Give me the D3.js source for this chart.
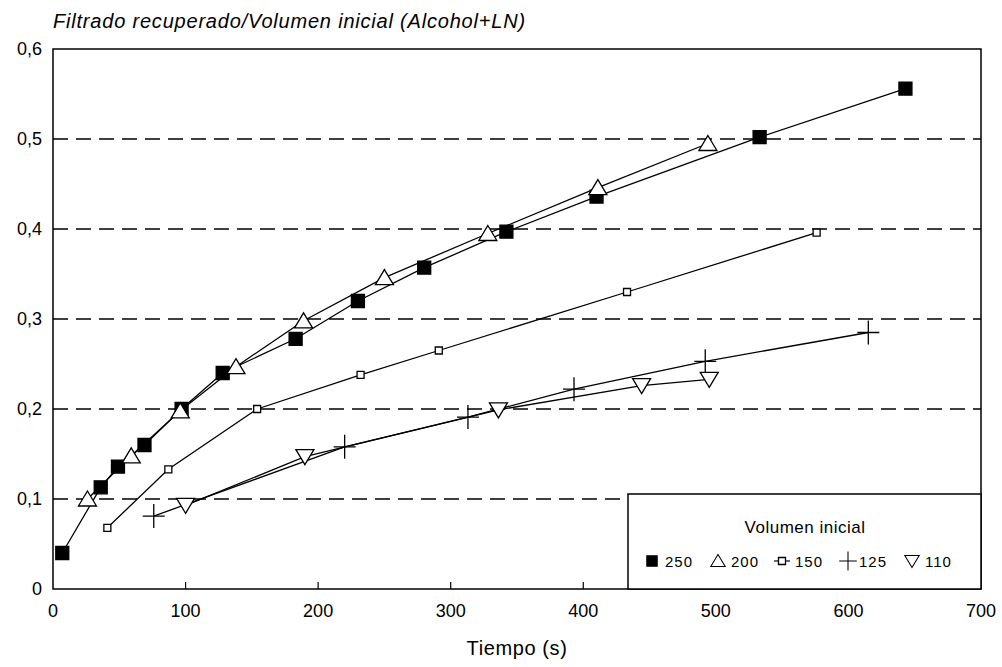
<!DOCTYPE html>
<html>
<head>
<meta charset="utf-8">
<script src="https://cdn.jsdelivr.net/npm/d3@7"></script>
<style>
    body { margin: 0; background: #fff; }
    svg { display: block; font-family: "Liberation Sans", Arial, sans-serif; }
</style>
</head>
<body>
<svg id="chart" width="1002" height="667"></svg>
<script>
// Data (Tiempo en s, fracción recuperada)
const series250 = [[7, 0.04], [36, 0.113], [49, 0.136], [69, 0.16], [97, 0.2], [128, 0.24], [183, 0.278], [230, 0.32], [280, 0.357], [342, 0.397], [410, 0.436], [533, 0.502], [643, 0.556]];
const series200 = [[26, 0.1], [59, 0.148], [96, 0.198], [138, 0.247], [189, 0.298], [250, 0.346], [328, 0.395], [411, 0.446], [494, 0.495]];
const series150 = [[41, 0.068], [87, 0.133], [154, 0.2], [232, 0.238], [291, 0.265], [433, 0.33], [576, 0.396]];
const series125 = [[76, 0.081], [220, 0.158], [313, 0.191], [393, 0.222], [492, 0.253], [615, 0.285]];
const series110 = [[100, 0.093], [190, 0.147], [336, 0.199], [444, 0.226], [495, 0.233]];

const legendLabels = ['250', '200', '150', '125', '110'];
const xTicks = [0, 100, 200, 300, 400, 500, 600, 700];
const yTicks = [0, 0.1, 0.2, 0.3, 0.4, 0.5, 0.6];

const svg = d3.select('#chart');
const margin = { left: 53, right: 21, top: 49, bottom: 78 };
const width = 1002 - margin.left - margin.right;
const height = 667 - margin.top - margin.bottom;

const x = d3.scaleLinear().domain([0, 700]).range([0, width]);
const y = d3.scaleLinear().domain([0, 0.6]).range([height, 0]);

const g = svg.append('g').attr('transform', `translate(${margin.left},${margin.top})`);

// Dashed grid lines
g.selectAll('.grid')
    .data(yTicks.filter(d => d > 0 && d < 0.6))
    .enter()
    .append('line')
    .attr('x1', 0)
    .attr('x2', width)
    .attr('y1', d => y(d))
    .attr('y2', d => y(d))
    .attr('stroke', '#000')
    .attr('stroke-width', 1.3)
    .attr('stroke-dasharray', '15,8');

// Frame
g.append('rect')
    .attr('width', width)
    .attr('height', height)
    .attr('fill', 'none')
    .attr('stroke', '#000')
    .attr('stroke-width', 1.5);

// X ticks (inside, pointing up)
g.selectAll('.xtick')
    .data(xTicks.slice(1, -1))
    .enter()
    .append('line')
    .attr('x1', d => x(d))
    .attr('x2', d => x(d))
    .attr('y1', height)
    .attr('y2', height - 7)
    .attr('stroke', '#000')
    .attr('stroke-width', 1.2);

// Tick labels
g.selectAll('.xlabel')
    .data(xTicks)
    .enter()
    .append('text')
    .attr('x', d => x(d))
    .attr('y', height + 28)
    .attr('text-anchor', 'middle')
    .attr('font-size', 18)
    .attr('fill', '#000')
    .text(d => d);

g.selectAll('.ylabel')
    .data(yTicks)
    .enter()
    .append('text')
    .attr('x', -11)
    .attr('y', d => y(d) + 6)
    .attr('text-anchor', 'end')
    .attr('font-size', 18)
    .attr('fill', '#000')
    .text(d => d === 0 ? '0' : d3.format('.1f')(d).replace('.', ','));

// Titles
svg.append('text')
    .attr('x', 53)
    .attr('y', 28)
    .attr('font-size', 20)
    .attr('font-style', 'italic')
    .attr('letter-spacing', 0.8)
    .attr('fill', '#000')
    .text('Filtrado recuperado/Volumen inicial (Alcohol+LN)');

svg.append('text')
    .attr('x', margin.left + width / 2)
    .attr('y', 655)
    .attr('text-anchor', 'middle')
    .attr('font-size', 20)
    .attr('letter-spacing', 0.6)
    .attr('fill', '#000')
    .text('Tiempo (s)');

// Marker shapes, centred on 0,0
function markerPath(type) {
    if (type === 'square') return 'M-6.5,-6.5H6.5V6.5H-6.5Z';
    if (type === 'tri') return 'M0,-8L9,7H-9Z';
    if (type === 'small') return 'M-3.5,-3.5H3.5V3.5H-3.5Z';
    if (type === 'plus') return 'M-11,0H11M0,-12V12';
    if (type === 'tridown') return 'M0,8L9,-7H-9Z';
}

const seriesList = [
    { data: series250, type: 'square', fill: '#000' },
    { data: series200, type: 'tri', fill: '#fff' },
    { data: series150, type: 'small', fill: '#fff' },
    { data: series125, type: 'plus', fill: 'none' },
    { data: series110, type: 'tridown', fill: '#fff' }
];

const line = d3.line().x(d => x(d[0])).y(d => y(d[1]));

seriesList.forEach(s => {
    g.append('path')
        .datum(s.data)
        .attr('d', line)
        .attr('fill', 'none')
        .attr('stroke', '#000')
        .attr('stroke-width', 1.3);
});

seriesList.forEach(s => {
    g.selectAll(null)
        .data(s.data)
        .enter()
        .append('path')
        .attr('transform', d => `translate(${x(d[0])},${y(d[1])})`)
        .attr('d', markerPath(s.type))
        .attr('fill', s.fill)
        .attr('stroke', '#000')
        .attr('stroke-width', 1.3);
});

// Legend
const legend = svg.append('g');
legend.append('rect')
    .attr('x', 628)
    .attr('y', 494)
    .attr('width', margin.left + width - 628)
    .attr('height', margin.top + height - 494)
    .attr('fill', '#fff')
    .attr('stroke', '#000')
    .attr('stroke-width', 1.5);

legend.append('text')
    .attr('x', 805)
    .attr('y', 533)
    .attr('text-anchor', 'middle')
    .attr('font-size', 17)
    .attr('letter-spacing', 0.5)
    .attr('fill', '#000')
    .text('Volumen inicial');

const legendX = [652, 718, 782, 848, 912];
seriesList.forEach((s, i) => {
    const item = legend.append('g').attr('transform', `translate(${legendX[i]},561)`);
    if (s.type === 'small') {
        item.append('line').attr('x1', -8).attr('x2', 8).attr('stroke', '#000').attr('stroke-width', 1.2);
    }
    const scale = s.type === 'small' ? 1 : 0.8;
    item.append('path')
        .attr('d', markerPath(s.type))
        .attr('transform', `scale(${scale})`)
        .attr('fill', s.fill)
        .attr('stroke', '#000')
        .attr('stroke-width', 1.3);
    item.append('text')
        .attr('x', s.type === 'plus' ? 11 : 13)
        .attr('y', 6)
        .attr('font-size', 15)
        .attr('letter-spacing', 1)
        .attr('fill', '#000')
        .text(legendLabels[i]);
});
</script>
</body>
</html>
